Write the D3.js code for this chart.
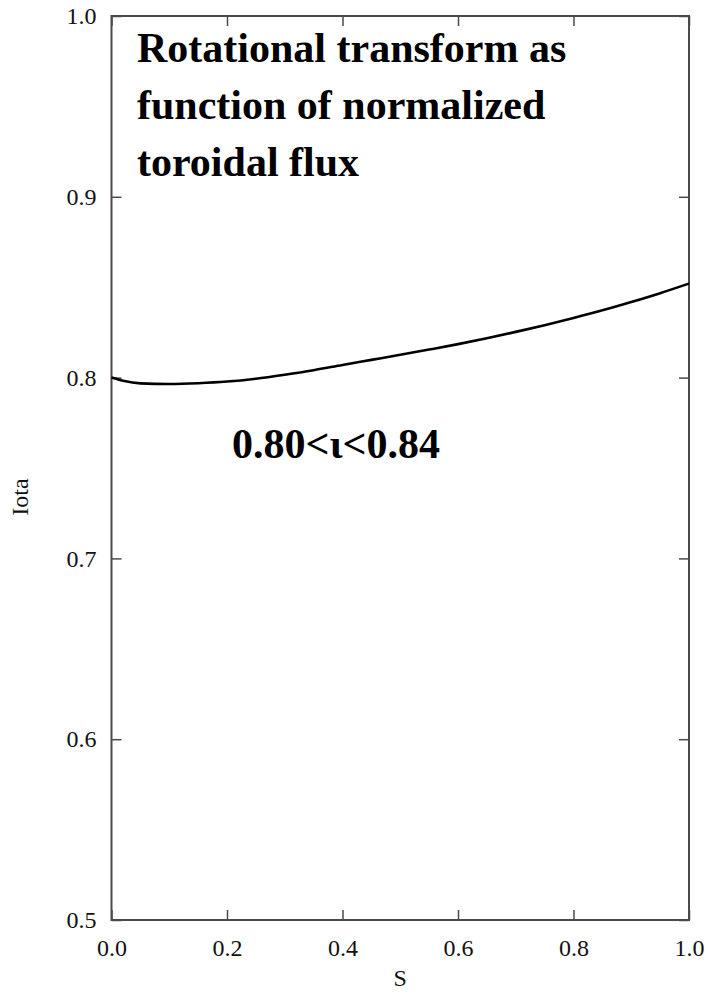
<!DOCTYPE html>
<html>
<head>
<meta charset="utf-8">
<script src="https://cdn.jsdelivr.net/npm/d3@7"></script>
<style>
  html, body { margin: 0; padding: 0; background: #fff; }
  svg { display: block; }
</style>
</head>
<body>
<svg id="chart" width="708" height="999"></svg>
<script>
// Rotational transform profile iota(s) against normalized toroidal flux s
const sValues = [0, 0.02, 0.05, 0.1, 0.15, 0.2, 0.25, 0.3, 0.35, 0.4, 0.45, 0.5,
                 0.55, 0.6, 0.65, 0.7, 0.75, 0.8, 0.85, 0.9, 0.95, 1.0];
const iotaValues = [0.800, 0.7982, 0.7968, 0.7965, 0.7969, 0.7978, 0.7994, 0.8016, 0.8041,
                    0.8070, 0.8098, 0.8126, 0.8155, 0.8185, 0.8218, 0.8253, 0.8290,
                    0.8330, 0.8372, 0.8418, 0.8467, 0.8520];
const xTicks = [0, 0.2, 0.4, 0.6, 0.8, 1.0];
const yTicks = [0.5, 0.6, 0.7, 0.8, 0.9, 1.0];
const titleLines = ["Rotational transform as", "function of normalized", "toroidal flux"];
const rangeLabel = "0.80<\u03B9<0.84";
const xLabel = "S";
const yLabel = "Iota";

const svg = d3.select("#chart");
const plotL = 111.5, plotR = 689, plotT = 16, plotB = 920;

const x = d3.scaleLinear().domain([0, 1]).range([plotL, plotR]);
const y = d3.scaleLinear().domain([0.5, 1.0]).range([plotB, plotT]);

const serif = "'Liberation Serif', 'Times New Roman', serif";
const frameColor = "#4a4a4a";
const tickLen = 10;

// Tick marks pointing inward on all four edges
const yAxisL = d3.axisLeft(y).tickValues(yTicks).tickSize(-tickLen).tickFormat(d3.format(".1f")).tickPadding(15);
const gL = svg.append("g").attr("transform", `translate(${plotL},0)`).call(yAxisL);
const yAxisR = d3.axisRight(y).tickValues(yTicks).tickSize(-tickLen).tickFormat("");
const gR = svg.append("g").attr("transform", `translate(${plotR},0)`).call(yAxisR);
const xAxisB = d3.axisBottom(x).tickValues(xTicks).tickSize(-tickLen).tickFormat(d3.format(".1f")).tickPadding(19);
const gB = svg.append("g").attr("transform", `translate(0,${plotB})`).call(xAxisB);
const xAxisT = d3.axisTop(x).tickValues(xTicks).tickSize(-tickLen).tickFormat("");
const gT = svg.append("g").attr("transform", `translate(0,${plotT})`).call(xAxisT);

[gL, gR, gB, gT].forEach(g => {
  g.select(".domain").remove();
  g.selectAll(".tick line").attr("stroke", frameColor).attr("stroke-width", 1.5);
  g.selectAll(".tick text")
    .attr("fill", "#111")
    .style("font-family", serif)
    .style("font-size", "24px");
});

// Plot frame
svg.append("rect")
  .attr("x", plotL).attr("y", plotT)
  .attr("width", plotR - plotL).attr("height", plotB - plotT)
  .attr("fill", "none")
  .attr("stroke", frameColor)
  .attr("stroke-width", 2);

// Profile curve
const line = d3.line()
  .x((d, i) => x(sValues[i]))
  .y(d => y(d))
  .curve(d3.curveMonotoneX);

svg.append("path")
  .datum(iotaValues)
  .attr("d", line)
  .attr("fill", "none")
  .attr("stroke", "#000")
  .attr("stroke-width", 2.6);

// Title block
const title = svg.append("text")
  .attr("x", 137)
  .attr("y", 62)
  .style("font-family", serif)
  .style("font-weight", "bold")
  .style("font-size", "42px")
  .attr("fill", "#000");
titleLines.forEach((t, i) => {
  title.append("tspan").attr("x", 137).attr("dy", i === 0 ? 0 : 57).text(t);
});

// Range annotation
svg.append("text")
  .attr("x", 232)
  .attr("y", 458)
  .style("font-family", serif)
  .style("font-weight", "bold")
  .style("font-size", "42px")
  .attr("fill", "#000")
  .text(rangeLabel);

// Axis titles
svg.append("text")
  .attr("x", (plotL + plotR) / 2)
  .attr("y", 986)
  .attr("text-anchor", "middle")
  .style("font-family", serif)
  .style("font-size", "24px")
  .attr("fill", "#111")
  .text(xLabel);

svg.append("text")
  .attr("transform", `translate(28,497) rotate(-90)`)
  .attr("text-anchor", "middle")
  .style("font-family", serif)
  .style("font-size", "24px")
  .attr("fill", "#111")
  .text(yLabel);
</script>
</body>
</html>
